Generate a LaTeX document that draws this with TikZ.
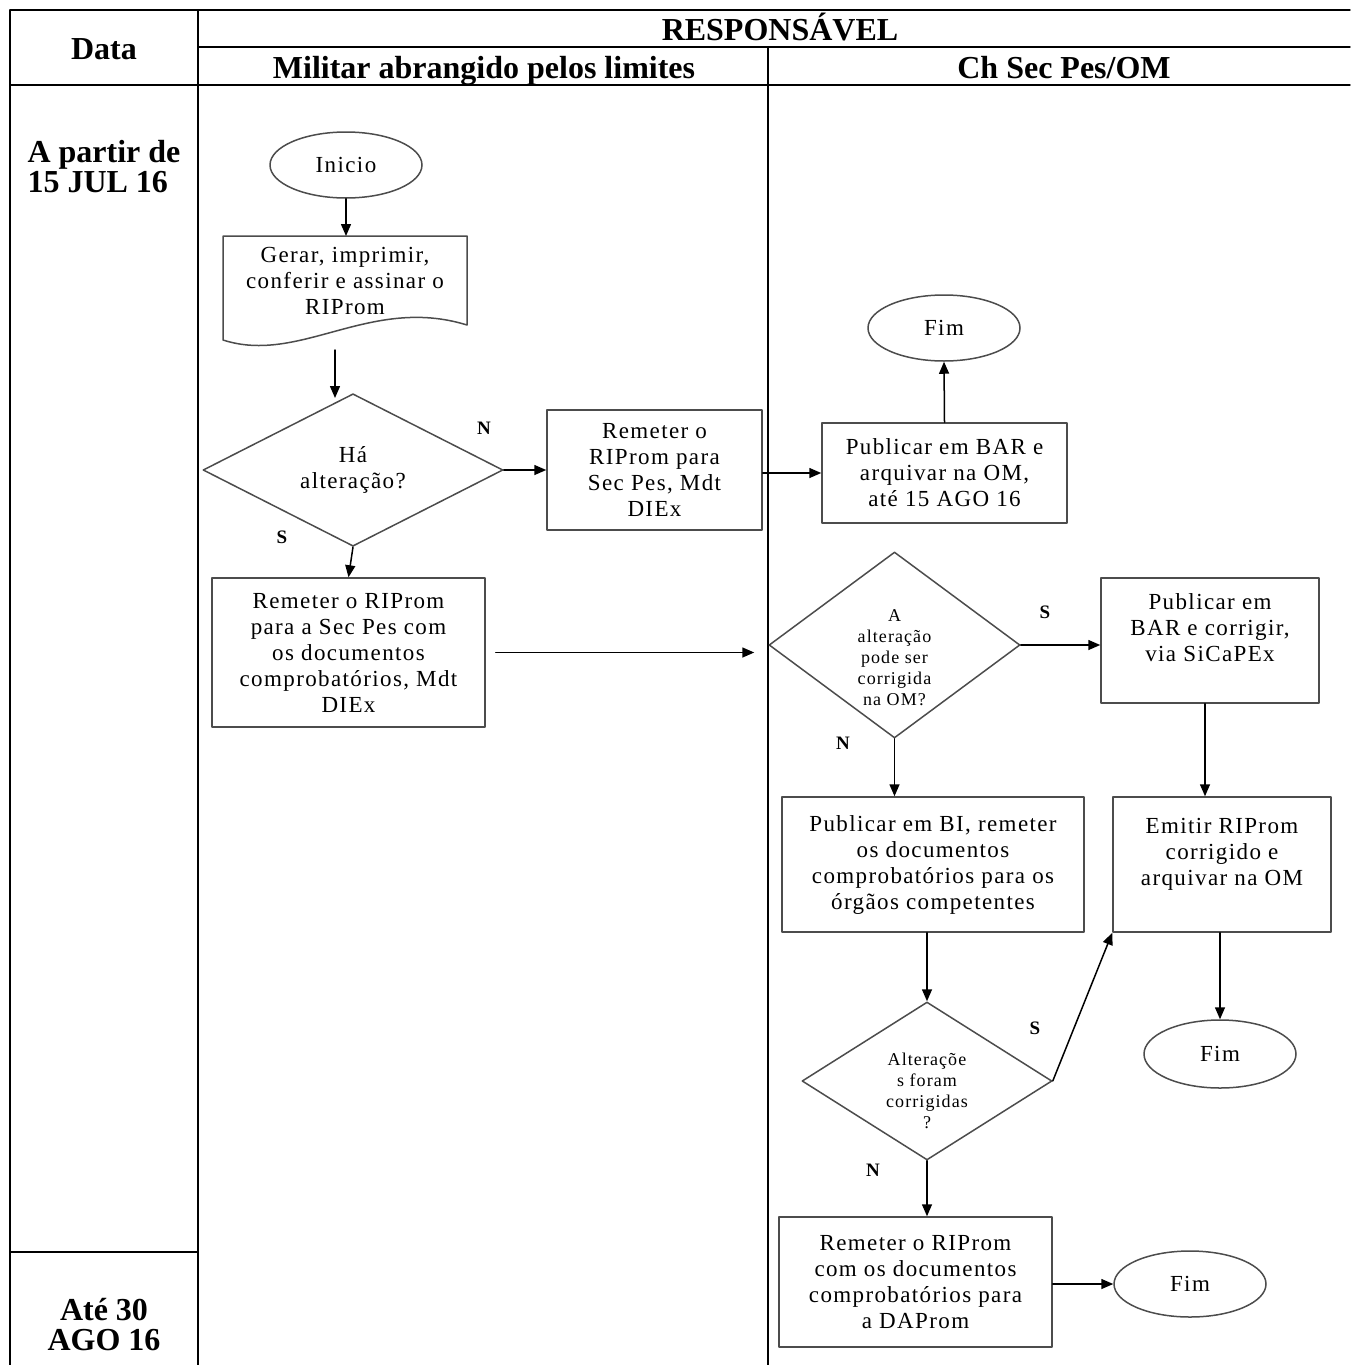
\documentclass[tikz,border=0pt]{standalone}
\usepackage{fontspec}
\setmainfont{Liberation Serif}
\newfontfamily\boxfont[LetterSpace=6]{Liberation Serif}
\usetikzlibrary{arrows.meta,shapes.geometric}
\definecolor{uququq}{rgb}{0.3,0.3,0.3}
\definecolor{qqqqqq}{rgb}{0,0,0}
\begin{document}
\begin{tikzpicture}[line cap=round,line join=round,>={Triangle[length=12pt,width=10pt]},x=1pt,y=-1pt,
  tabline/.style={line width=1.4pt,color=qqqqqq},
  caixa/.style={draw=uququq,line width=1.5pt,align=center,inner sep=0pt,font=\boxfont\fontsize{23}{26}\selectfont},
  miudo/.style={font=\boxfont\fontsize{18}{21}\selectfont,inner sep=-12pt},
  terminal/.style={caixa,ellipse},
  decisao/.style={caixa,diamond},
  seta/.style={->,line width=1.5pt,color=qqqqqq},
  resp/.style={font=\bfseries\fontsize{19}{19}\selectfont},
  cabec/.style={anchor=base,font=\bfseries\fontsize{32}{30}\selectfont},
  datas/.style={font=\bfseries\fontsize{32}{30}\selectfont}]
\useasboundingbox (0,0) rectangle (1350,1365);
% tabela
\draw [tabline] (10,10) -- (1350,10);
\draw [tabline] (198,47) -- (1350,47);
\draw [tabline] (10,85) -- (1350,85);
\draw [tabline] (10,10) -- (10,1365);
\draw [tabline] (198,10) -- (198,1365);
\draw [tabline] (768,47) -- (768,1365);
\draw [tabline] (10,1252) -- (198,1252);
\node [cabec] (data) at (104,59) {Data};
\node [cabec] (resp) at (780,40) {RESPONSÁVEL};
\node [cabec] (militar) at (484,78) {Militar abrangido pelos limites};
\node [cabec] (chsec) at (1064,78) {Ch Sec Pes/OM};
\node [datas,anchor=base west,align=left] (dataini) at (24,192) {A partir de\\15 JUL 16};
\node [datas,anchor=base,align=center] (datafim) at (104,1350) {Até 30\\AGO 16};
% fluxo do militar
\node [terminal,minimum width=152,minimum height=66] (inicio) at (346,165) {Inicio};
\draw [draw=uququq,line width=1.5pt] (223,340) -- (223,236) -- (467,236) -- (467,325) .. controls (370,295) and (300,365) .. (223,340);
\coordinate (gerartopo) at (346,236);
\coordinate (gerarsai) at (335,350);
\coordinate (haentra) at (335,398);
\node [font=\boxfont\fontsize{23}{26}\selectfont,align=center] (gerar) at (345,281) {Gerar, imprimir,\\conferir e assinar o\\RIProm};
\node [decisao,minimum width=300,minimum height=140] (ha) at (353,470) {Há\\alteração?};
\node [caixa,minimum width=215,minimum height=120] (remeter1) at (654.5,470) {Remeter o\\RIProm para\\Sec Pes, Mdt\\DIEx};
\node [caixa,minimum width=273,minimum height=149] (remeter2) at (348.5,652.5) {Remeter o RIProm\\para a Sec Pes com\\os documentos\\comprobatórios, Mdt\\DIEx};
% fluxo do Ch Sec Pes
\node [caixa,minimum width=245,minimum height=100] (pubbar) at (944.5,473) {Publicar em BAR e\\arquivar na OM,\\até 15 AGO 16};
\node [terminal,minimum width=152,minimum height=66] (fim1) at (944,328) {Fim};
\node [decisao,miudo,minimum width=251,minimum height=186] (corrige) at (894.5,645) {\mbox{}\\[17pt]A\\alteração\\pode ser\\corrigida\\na OM?};
\node [caixa,minimum width=218,minimum height=125] (pubcorr) at (1210,640.5) {Publicar em\\BAR e corrigir,\\via SiCaPEx\\\mbox{}};
\node [caixa,minimum width=218,minimum height=135] (emitir) at (1222,864.5) {Emitir RIProm\\corrigido e\\arquivar na OM\\\mbox{}};
\node [terminal,minimum width=152,minimum height=68] (fim2) at (1220,1054) {Fim};
\node [caixa,minimum width=302,minimum height=135] (pubbi) at (933,864.5) {Publicar em BI, remeter\\os documentos\\comprobatórios para os\\órgãos competentes};
\node [decisao,miudo,minimum width=250,minimum height=158] (alter) at (927,1081) {\mbox{}\\[12pt]Alteraçõe\\s foram\\corrigidas\\?};
\node [caixa,minimum width=273,minimum height=130] (remeter3) at (915.5,1282) {Remeter o RIProm\\com os documentos\\comprobatórios para\\a DAProm};
\node [terminal,minimum width=152,minimum height=66] (fim3) at (1190,1284) {Fim};
% rotulos
\node [resp] (n1) at (484,428) {N};
\node [resp] (s1) at (282,537) {S};
\node [resp] (s2) at (1045,612) {S};
\node [resp] (n2) at (843,743) {N};
\node [resp] (s3) at (1035,1028) {S};
\node [resp] (n3) at (873,1170) {N};
% setas
\draw [seta] (inicio) -- (gerartopo);
\draw [seta] (gerarsai) -- (haentra);
\draw [seta] (ha.east) -- (remeter1.west);
\draw [seta] (remeter1.east |- pubbar.west) -- (pubbar.west);
\draw [seta] (pubbar.north) -- (fim1.south);
\draw [seta] (ha.south) -- (remeter2.north);
\draw [seta] ([xshift=10pt]remeter2.east) -- ([xshift=-14pt]corrige.west |- remeter2.east);
\draw [seta] (corrige.east) -- (corrige.east -| pubcorr.west);
\draw [seta] ([xshift=-5pt]pubcorr.south) -- ([xshift=-5pt]pubcorr.south |- emitir.north);
\draw [seta] (emitir.south -| fim2.north) -- (fim2.north);
\draw [seta] (corrige.south) -- (corrige.south |- pubbi.north);
\draw [seta] (alter.north |- pubbi.south) -- (alter.north);
\draw [seta] (alter.east) -- (emitir.south west);
\draw [seta] (alter.south) -- (alter.south |- remeter3.north);
\draw [seta] (remeter3.east |- fim3.west) -- (fim3.west);
\end{tikzpicture}
\end{document}
